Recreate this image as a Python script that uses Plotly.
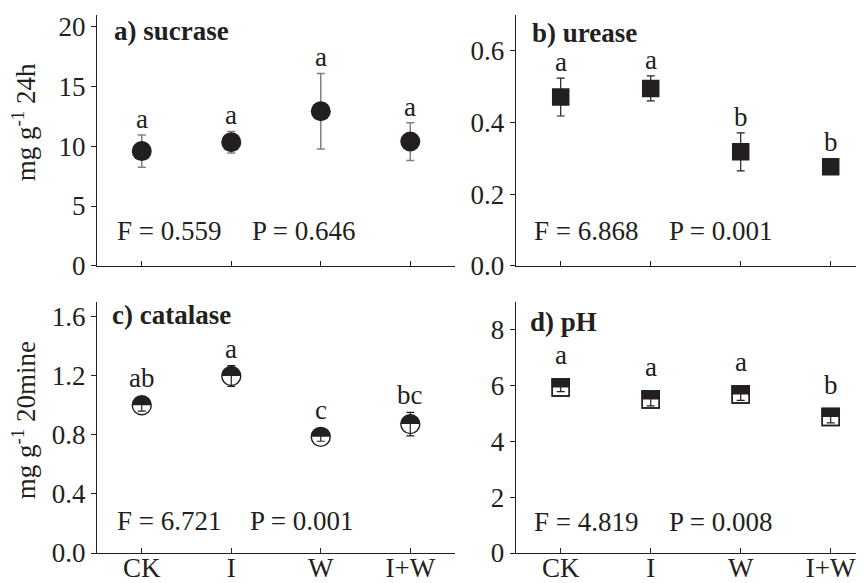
import plotly.graph_objects as go

# ---------------- data ----------------
categories = ["CK", "I", "W", "I+W"]

sucrase = [9.6, 10.35, 12.94, 10.4]
sucrase_err = [1.35, 0.9, 3.17, 1.58]
sucrase_letters = ["a", "a", "a", "a"]

urease = [0.471, 0.495, 0.318, 0.276]
urease_err = [0.053, 0.035, 0.053, 0.008]
urease_letters = ["a", "a", "b", "b"]

catalase = [1.0, 1.198, 0.786, 0.872]
catalase_err = [0.04, 0.07, 0.03, 0.08]
catalase_letters = ["ab", "a", "c", "bc"]

ph = [5.93, 5.50, 5.68, 4.87]
ph_err = [0.15, 0.23, 0.21, 0.21]
ph_letters = ["a", "a", "a", "b"]

panel_titles = ["a) sucrase", "b) urease", "c) catalase", "d) pH"]
stat_F = ["0.559", "6.868", "6.721", "4.819"]
stat_P = ["0.646", "0.001", "0.001", "0.008"]

# ---------------- layout geometry ----------------
PAGE_OFFSET = 8  # default body margin of the html page
W, H = 864 - PAGE_OFFSET, 583 - PAGE_OFFSET
ML, MR, MT, MB = 97 - PAGE_OFFSET, 0, 15 - PAGE_OFFSET, 30
PW, PH = W - ML - MR, H - MT - MB

FONT = "Liberation Serif"
INK = "#231f20"
FS = 27

x_dom_left = [0.0, 0.4668]
x_dom_right = [0.5459, 1.0]
y_dom_top = [0.534, 1.0]
y_dom_bot = [0.0, 0.467]

panels = [
    dict(ax="", xd=x_dom_left, yd=y_dom_top, yr=[0, 21], xr=[-0.5, 3.5], dtick=5, fmt="d", labels=False),
    dict(ax="2", xd=x_dom_right, yd=y_dom_top, yr=[0, 0.7], xr=[-0.5, 3.37], dtick=0.2, fmt=".1f", labels=False),
    dict(ax="3", xd=x_dom_left, yd=y_dom_bot, yr=[0, 1.7], xr=[-0.5, 3.5], dtick=0.4, fmt=".1f", labels=True),
    dict(ax="4", xd=x_dom_right, yd=y_dom_bot, yr=[0, 9], xr=[-0.5, 3.37], dtick=2, fmt="d", labels=True),
]


def ppu(p):
    return (p["yd"][1] - p["yd"][0]) * PH / (p["yr"][1] - p["yr"][0])


fig = go.Figure()

# panel a: filled circles, grey error bars
fig.add_trace(go.Scatter(
    x=categories, y=sucrase, mode="markers", xaxis="x", yaxis="y",
    marker=dict(symbol="circle", size=20, color=INK, line=dict(width=0)),
    error_y=dict(type="data", array=sucrase_err, color="#808080", thickness=1.5, width=4),
    showlegend=False, hoverinfo="skip"))

# panel b: filled squares
fig.add_trace(go.Scatter(
    x=categories, y=urease, mode="markers", xaxis="x2", yaxis="y2",
    marker=dict(symbol="square", size=17.5, color=INK, line=dict(width=0)),
    error_y=dict(type="data", array=urease_err, color=INK, thickness=1.2, width=4),
    showlegend=False, hoverinfo="skip"))

# panel c: half-filled circles (top black, bottom white)
pc = panels[2]
rc = 10.5
fig.add_trace(go.Scatter(
    x=categories, y=catalase, mode="markers", xaxis="x3", yaxis="y3",
    marker=dict(symbol="circle", size=19, color=INK, line=dict(width=0)),
    showlegend=False, hoverinfo="skip"))
fig.add_trace(go.Scatter(
    x=categories, y=catalase, mode="markers", xaxis="x3", yaxis="y3",
    marker=dict(size=1, color="rgba(0,0,0,0)"),
    error_y=dict(type="data", symmetric=False, array=[0] * len(categories),
                 arrayminus=[rc / ppu(pc)] * len(categories),
                 color="white", thickness=2 * rc, width=0),
    showlegend=False, hoverinfo="skip"))
fig.add_trace(go.Scatter(
    x=categories, y=catalase, mode="markers", xaxis="x3", yaxis="y3",
    marker=dict(symbol="circle-open", size=19, color=INK, line=dict(width=1.4)),
    error_y=dict(type="data", array=catalase_err, color=INK, thickness=1.2, width=4),
    showlegend=False, hoverinfo="skip"))

# panel d: half-filled squares (top black, bottom white)
pd_ = panels[3]
sd = 17
fig.add_trace(go.Scatter(
    x=categories, y=ph, mode="markers", xaxis="x4", yaxis="y4",
    marker=dict(symbol="square", size=sd, color="white", line=dict(width=1.4, color=INK)),
    showlegend=False, hoverinfo="skip"))
fig.add_trace(go.Scatter(
    x=categories, y=ph, mode="markers", xaxis="x4", yaxis="y4",
    marker=dict(size=1, color="rgba(0,0,0,0)"),
    error_y=dict(type="data", symmetric=False, array=[(sd / 2 + 0.7) / ppu(pd_)] * len(categories),
                 arrayminus=[0] * len(categories),
                 color=INK, thickness=sd + 1.4, width=0),
    showlegend=False, hoverinfo="skip"))
fig.add_trace(go.Scatter(
    x=categories, y=ph, mode="markers", xaxis="x4", yaxis="y4",
    marker=dict(symbol="square-open", size=sd, color=INK, line=dict(width=1.4)),
    error_y=dict(type="data", array=ph_err, color=INK, thickness=1.2, width=4),
    showlegend=False, hoverinfo="skip"))

# ---------------- axes ----------------
layout = dict(
    width=W, height=H, margin=dict(l=ML, r=MR, t=MT, b=MB),
    paper_bgcolor="white", plot_bgcolor="white", template="none",
    font=dict(family=FONT, size=FS, color=INK), showlegend=False,
)
for p in panels:
    a = p["ax"]
    layout["xaxis" + a] = dict(
        domain=p["xd"], range=p["xr"], anchor="y" + a, type="category",
        showline=True, linecolor=INK, linewidth=1.3, mirror=False,
        showgrid=False, zeroline=False,
        ticks="inside", ticklen=5, tickwidth=1, tickcolor=INK,
        showticklabels=p["labels"], tickfont=dict(family=FONT, size=FS, color=INK),
        ticklabelstandoff=-10,
        fixedrange=True, automargin=False,
    )
    layout["yaxis" + a] = dict(
        domain=p["yd"], range=p["yr"], anchor="x" + a,
        showline=True, linecolor=INK, linewidth=1.3, mirror=False,
        showgrid=False, zeroline=False,
        ticks="outside", ticklen=5, tickwidth=1, tickcolor=INK,
        tick0=0, dtick=p["dtick"], tickformat=p["fmt"],
        tickfont=dict(family=FONT, size=FS, color=INK),
        fixedrange=True, automargin=False,
    )
fig.update_layout(**layout)

# ---------------- annotations ----------------
ann = []
title_pos = [(0.042, 0.935), (0.041, 0.93), (0.036, 0.947), (0.035, 0.92)]
for p, t, (tx, ty) in zip(panels, panel_titles, title_pos):
    a = p["ax"]
    ann.append(dict(text="<b>" + t + "</b>", xref="x" + a + " domain", yref="y" + a + " domain",
                    x=tx, y=ty, xanchor="left", yanchor="middle", showarrow=False,
                    font=dict(family=FONT, size=FS, color=INK)))

stat_pos = [(0.05, 0.427, 0.138), (0.046, 0.434, 0.138), (0.05, 0.423, 0.126), (0.046, 0.434, 0.124)]
for p, f, pv, (fx, px, sy) in zip(panels, stat_F, stat_P, stat_pos):
    a = p["ax"]
    for txt, xx in (("F = " + f, fx), ("P = " + pv, px)):
        ann.append(dict(text=txt, xref="x" + a + " domain", yref="y" + a + " domain",
                        x=xx, y=sy, xanchor="left", yanchor="middle", showarrow=False,
                        font=dict(family=FONT, size=FS, color=INK)))

# significance letters
letter_sets = [
    (panels[0], sucrase, sucrase_err, sucrase_letters, 10, 0),
    (panels[1], urease, urease_err, urease_letters, 9, 0),
    (panels[2], catalase, catalase_err, catalase_letters, 10, 1),
    (panels[3], ph, ph_err, ph_letters, 9, 7),
]
for p, vals, errs, lets, rpx, gap in letter_sets:
    a = p["ax"]
    k = ppu(p)
    for c, v, e, l in zip(categories, vals, errs, lets):
        ann.append(dict(text=l, xref="x" + a, yref="y" + a, x=c, y=v,
                        xanchor="center", yanchor="bottom", showarrow=False,
                        yshift=max(e * k, rpx) + gap, borderpad=0,
                        font=dict(family=FONT, size=FS, color=INK)))

# y-axis titles (reference pixel positions converted to paper fractions)
def paper_x(px):
    return (px - 97) / PW


def paper_y(py):
    return (552.7 - py) / PH


ann.append(dict(text="mg g<sup>-1</sup> 24h", xref="paper", yref="paper",
                x=paper_x(24), y=paper_y(122), textangle=-90,
                xanchor="center", yanchor="middle", showarrow=False,
                font=dict(family=FONT, size=FS, color=INK)))
ann.append(dict(text="mg g<sup>-1</sup> 20mine", xref="paper", yref="paper",
                x=paper_x(24), y=paper_y(420), textangle=-90,
                xanchor="center", yanchor="middle", showarrow=False,
                font=dict(family=FONT, size=FS, color=INK)))

fig.update_layout(annotations=ann)
fig.write_html("out.html")
